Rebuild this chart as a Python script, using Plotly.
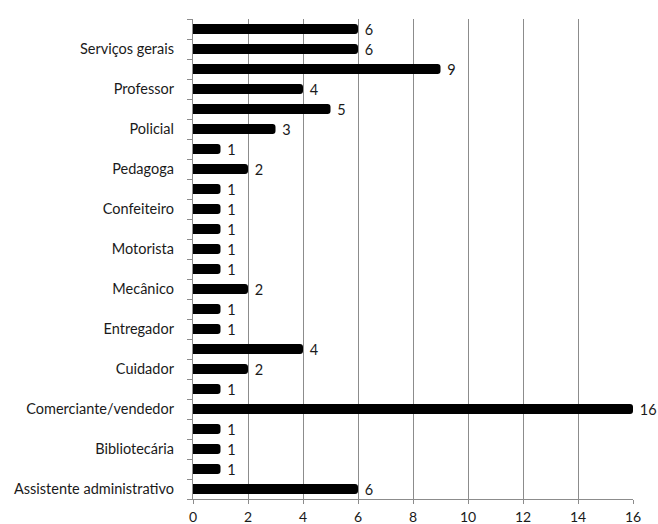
import plotly.graph_objects as go

# Categories from top to bottom (only every other one is labelled in the chart)
labels = ["", "Serviços gerais", "", "Professor", "", "Policial", "", "Pedagoga",
          "", "Confeiteiro", "", "Motorista", "", "Mecânico", "", "Entregador",
          "", "Cuidador", "", "Comerciante/vendedor", "", "Bibliotecária", "",
          "Assistente administrativo"]
values = [6, 6, 9, 4, 5, 3, 1, 2, 1, 1, 1, 1, 1, 2, 1, 1, 4, 2, 1, 16, 1, 1, 1, 6]
x_ticks = [0, 2, 4, 6, 8, 10, 12, 14, 16]

pos = list(range(len(values)))
tickvals = [p for p, l in zip(pos, labels) if l]
ticktext = [l for l in labels if l]

FONT = "Lato"
FS = 14.5

fig = go.Figure(go.Bar(
    x=values, y=pos, orientation="h",
    marker=dict(color="#000000", line=dict(width=0), cornerradius=3),
    text=values, texttemplate=" %{x}", textposition="outside",
    constraintext="none",
    textfont=dict(family=FONT, size=FS, color="#1a1a1a"),
    cliponaxis=False,
))

fig.update_layout(
    width=658, height=524,
    margin=dict(l=193, r=25, t=19, b=25),
    paper_bgcolor="white", plot_bgcolor="white",
    bargap=0.5, showlegend=False,
    font=dict(family=FONT, size=FS, color="#1a1a1a"),
)
fig.update_xaxes(
    range=[0, 16], tickvals=x_ticks, ticktext=[str(v) for v in x_ticks],
    showgrid=True, gridcolor="#8c8c8c", gridwidth=1.3,
    zeroline=False, showline=True, linecolor="#8c8c8c", linewidth=1.3,
    ticks="outside", ticklen=4, tickcolor="#8c8c8c",
    tickfont=dict(size=14),
    ticklabelstandoff=1, automargin=False,
)
fig.update_yaxes(
    range=[len(values) - 0.5, -0.5], tickvals=tickvals, ticktext=ticktext,
    ticks="", showgrid=False, zeroline=False,
    showline=True, linecolor="#8c8c8c", linewidth=1.3,
    minor=dict(tick0=0.5, dtick=1, ticks="outside", ticklen=5,
               tickcolor="#8c8c8c", showgrid=False),
    ticklabelstandoff=15, automargin=False,
)

fig.write_html(
    "out.html",
    config={"displayModeBar": False},
    post_script="document.body.style.margin='0';document.body.style.overflow='hidden';",
)
